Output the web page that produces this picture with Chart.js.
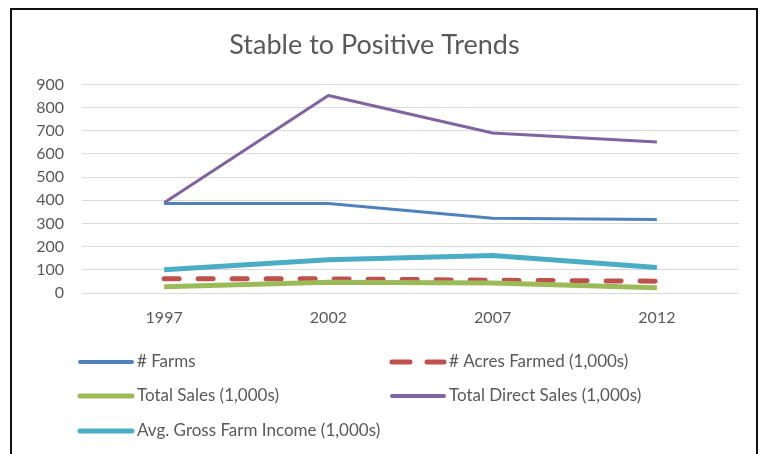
<!DOCTYPE html>
<html lang="en">
  <head>
    <meta charset="UTF-8" />
    <title>Stable to Positive Trends</title>
    <script src="https://cdn.jsdelivr.net/npm/chart.js@4.4.1/dist/chart.umd.min.js"></script>
    <style>
      html, body { margin: 0; padding: 0; background: #fff; }
      #wrap { position: relative; width: 762px; height: 454px; overflow: hidden; }
      #frame {
        position: absolute; left: 10px; top: 8px; width: 744px; height: 470px;
        border: 2px solid #111; box-sizing: content-box;
      }
      canvas { position: absolute; left: 0; top: 0; }
    </style>
  </head>
  <body>
    <div id="wrap">
      <div id="frame"></div>
      <canvas id="trends" width="762" height="454"></canvas>
    </div>

    <script>
      // Census years and series values
      const years = ["1997", "2002", "2007", "2012"];
      const farms = [386, 386, 322, 317];
      const acresFarmed = [61, 61, 55, 51];
      const totalSales = [27, 46, 43, 23];
      const directSales = [389, 852, 690, 651];
      const avgGrossIncome = [100, 143, 162, 110];

      const FONT = "Lato, 'Liberation Sans', sans-serif";
      const TEXT = "#595959";

      const series = [
        { label: "# Farms", data: farms, color: "#4F81BD", width: 3 },
        { label: "# Acres Farmed (1,000s)", data: acresFarmed, color: "#C0504D", width: 5, dash: [15, 19] },
        { label: "Total Sales (1,000s)", data: totalSales, color: "#9BBB59", width: 5 },
        { label: "Total Direct Sales (1,000s)", data: directSales, color: "#8064A2", width: 3 },
        { label: "Avg. Gross Farm Income (1,000s)", data: avgGrossIncome, color: "#4BACC6", width: 5 },
      ];

      // Two-column legend under the plot
      const gridLegend = {
        id: "gridLegend",
        afterDraw(chart) {
          const ctx = chart.ctx;
          const cols = [78, 390];
          const rows = [362, 396, 431];
          const sample = 56;
          ctx.save();
          ctx.font = "17px " + FONT;
          ctx.textBaseline = "middle";
          ctx.fillStyle = TEXT;
          chart.data.datasets.forEach((ds, i) => {
            const x = cols[i % 2];
            const y = rows[Math.floor(i / 2)];
            ctx.beginPath();
            ctx.strokeStyle = ds.borderColor;
            ctx.lineWidth = Math.max(ds.borderWidth, 4);
            ctx.lineCap = "round";
            ctx.setLineDash(ds.borderDash && ds.borderDash.length ? [18, 17] : []);
            ctx.moveTo(x + 2, y);
            ctx.lineTo(x + sample - 2, y);
            ctx.stroke();
            ctx.setLineDash([]);
            ctx.fillText(ds.label, x + sample + 3, y);
          });
          ctx.restore();
        },
      };

      new Chart(document.getElementById("trends"), {
        type: "line",
        data: {
          labels: years,
          datasets: series.map((s, i) => ({
            label: s.label,
            data: s.data,
            borderColor: s.color,
            backgroundColor: s.color,
            borderWidth: s.width,
            borderDash: s.dash || [],
            borderCapStyle: s.dash ? "round" : "butt",
            borderJoinStyle: "round",
            pointRadius: 0,
            tension: 0,
            order: series.length - i,
          })),
        },
        options: {
          responsive: false,
          animation: false,
          layout: { padding: { left: 10, right: 23, top: 0, bottom: 0 } },
          plugins: {
            legend: { display: false },
            tooltip: { enabled: false },
            title: {
              display: true,
              text: "Stable to Positive Trends",
              color: TEXT,
              font: { family: FONT, size: 27, weight: "normal" },
              padding: { top: 29, bottom: 23 },
            },
          },
          scales: {
            x: {
              offset: true,
              grid: { display: false, drawTicks: false },
              border: { display: false },
              ticks: { color: TEXT, font: { family: FONT, size: 16 }, padding: 15 },
              afterFit(s) { s.height = 161; },
            },
            y: {
              min: 0,
              max: 900,
              grid: { color: "#d9d9d9", lineWidth: 1, drawTicks: false },
              border: { display: false },
              ticks: { stepSize: 100, color: TEXT, font: { family: FONT, size: 16 }, padding: 18 },
              afterFit(s) { s.width = 72; },
            },
          },
        },
        plugins: [gridLegend],
      });
    </script>
  </body>
</html>
